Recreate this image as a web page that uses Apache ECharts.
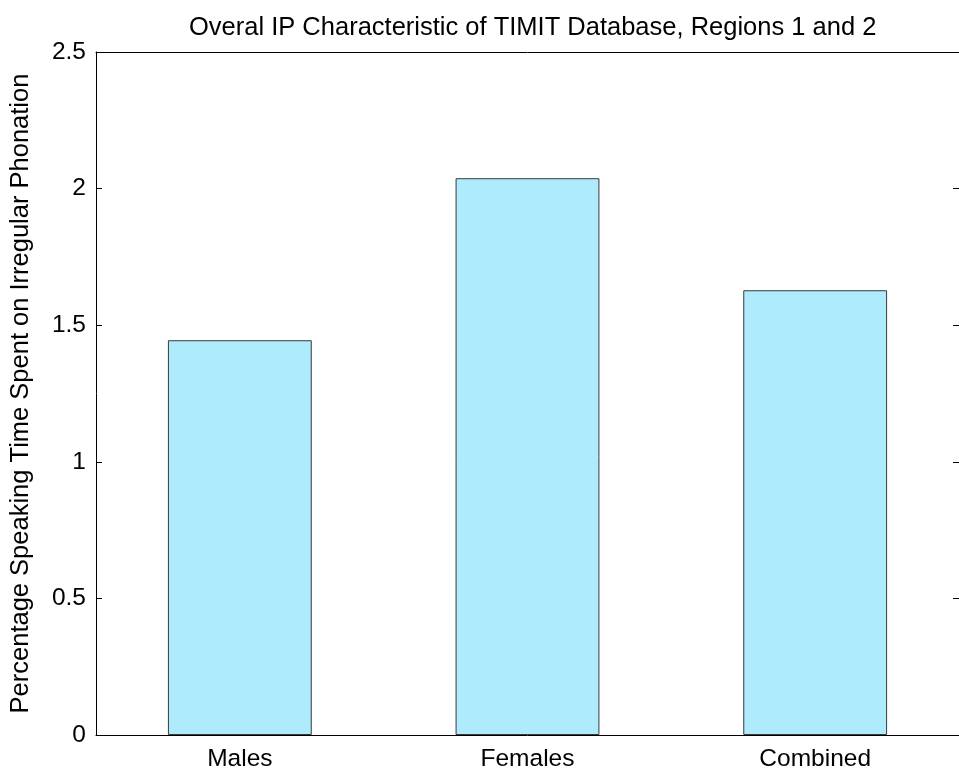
<!DOCTYPE html>
<html><head><meta charset="utf-8">
<script src="https://cdn.jsdelivr.net/npm/echarts@6/dist/echarts.min.js"></script>
<style>html,body{margin:0;padding:0;background:#fff}#c{width:959px;height:772px}</style>
</head><body><div id="c"></div>
<script>
const categories = ['Males', 'Females', 'Combined'];
const values = [1.445, 2.038, 1.628];
const yTicks = { min: 0, max: 2.5, interval: 0.5 };
const titleText = 'Overal IP Characteristic of TIMIT Database, Regions 1 and 2';
const yName = 'Percentage Speaking Time Spent on Irregular Phonation';

const FONT = 'Liberation Sans, Arial, sans-serif';
const chart = echarts.init(document.getElementById('c'), null, { renderer: 'canvas' });
const axisLine = { show: true, onZero: false, lineStyle: { color: '#000', width: 1 } };
chart.setOption({
  animation: false,
  backgroundColor: '#fff',
  title: { text: titleText, left: 184, top: 10, textStyle: { fontFamily: FONT, fontSize: 25.5, fontWeight: 'normal', color: '#000' } },
  grid: { left: 96, right: -3, top: 52, bottom: 37, containLabel: false },
  xAxis: [
    { type: 'category', data: categories, position: 'bottom', axisLine,
      axisTick: { inside: true, alignWithLabel: true, length: 7, lineStyle: { color: '#000' } },
      axisLabel: { fontFamily: FONT, fontSize: 24.5, color: '#000', margin: 12 }, splitLine: { show: false } },
    { type: 'category', data: categories, position: 'top', axisLine,
      axisTick: { inside: true, alignWithLabel: true, length: 7, lineStyle: { color: '#000' } },
      axisLabel: { show: false }, splitLine: { show: false } }
  ],
  yAxis: [
    { type: 'value', min: yTicks.min, max: yTicks.max, interval: yTicks.interval, position: 'left', axisLine,
      axisTick: { show: true, inside: true, length: 6, lineStyle: { color: '#000' } },
      axisLabel: { fontFamily: FONT, fontSize: 24.5, color: '#000', margin: 10 },
      splitLine: { show: false },
      name: yName, nameLocation: 'middle', nameGap: 62, nameRotate: 90,
      nameTextStyle: { fontFamily: FONT, fontSize: 25.5, color: '#000' } },
    { type: 'value', min: yTicks.min, max: yTicks.max, interval: yTicks.interval, position: 'right', axisLine,
      axisTick: { show: true, inside: true, length: 6, lineStyle: { color: '#000' } },
      axisLabel: { show: false }, splitLine: { show: false } }
  ],
  series: [{
    type: 'bar', data: values, xAxisIndex: 0, yAxisIndex: 0, barWidth: '50%',
    itemStyle: { color: '#aeebfc', borderColor: '#3a3a3a', borderWidth: 1 }
  }]
});
</script></body></html>
